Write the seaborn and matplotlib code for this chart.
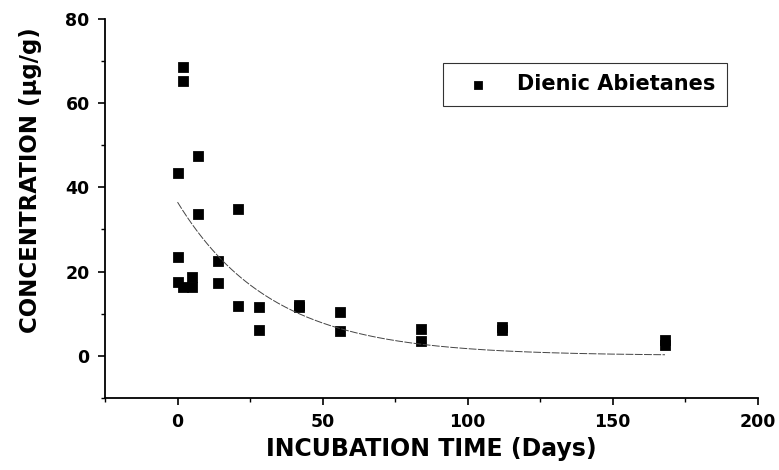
import numpy as np
import pandas as pd
import matplotlib
matplotlib.use("Agg")
import matplotlib.pyplot as plt
import seaborn as sns
from matplotlib.ticker import MultipleLocator

# Dados
days = [0, 0, 0, 2, 2, 2, 5, 5, 7, 7, 14, 14, 21, 21, 28, 28,
        42, 42, 56, 56, 84, 84, 112, 112, 168, 168]
conc = [43.5, 23.5, 17.5, 68.7, 65.4, 16.4, 18.7, 16.4, 47.5, 33.7,
        22.5, 17.2, 34.9, 11.7, 11.6, 6.2, 12.0, 11.5, 10.3, 5.9,
        6.4, 3.4, 6.8, 6.0, 3.6, 2.6]

# Ajuste exponencial (decaimento de primeira ordem)
fit_c0 = 36.5
fit_k = 0.031

df = pd.DataFrame({"Days": days, "Conc": conc})
t_fit = np.linspace(0, 168, 200)
df_fit = pd.DataFrame({"Days": t_fit, "Conc": fit_c0 * np.exp(-fit_k * t_fit)})

sns.set_style("ticks")
plt.rcParams["font.family"] = ["DejaVu Sans"]
plt.rcParams["text.color"] = "black"
plt.rcParams["axes.labelcolor"] = "black"
plt.rcParams["xtick.color"] = "black"
plt.rcParams["ytick.color"] = "black"

fig = plt.figure(figsize=(7.79, 4.70), dpi=100)
ax = fig.add_axes([0.1348, 0.154, 0.838, 0.805])

sns.lineplot(data=df_fit, x="Days", y="Conc", ax=ax, color="#444444",
             linewidth=0.7, linestyle=(0, (8, 1.5)))
sns.scatterplot(data=df, x="Days", y="Conc", ax=ax, marker="s", s=50,
                color="black", edgecolor="black", label="Dienic Abietanes")

ax.set_xlim(-25, 200)
ax.set_ylim(-10, 80)
ax.xaxis.set_major_locator(MultipleLocator(50))
ax.xaxis.set_minor_locator(MultipleLocator(25))
ax.yaxis.set_major_locator(MultipleLocator(20))
ax.yaxis.set_minor_locator(MultipleLocator(10))
ax.tick_params(which="major", length=5, width=1.2, direction="out",
               labelsize=12.5, pad=6)
ax.tick_params(which="minor", length=3, width=1.0, direction="out")
for lab in ax.get_xticklabels() + ax.get_yticklabels():
    lab.set_fontweight("bold")

for side in ["top", "right"]:
    ax.spines[side].set_visible(False)
for side in ["left", "bottom"]:
    ax.spines[side].set_linewidth(1.3)
    ax.spines[side].set_color("black")

ax.set_xlabel("INCUBATION TIME (Days)", fontsize=17, fontweight="bold")
ax.set_ylabel("CONCENTRATION (µg/g)", fontsize=16.5, fontweight="bold")
ax.xaxis.set_label_coords(0.5, -0.105)
ax.yaxis.set_label_coords(-0.097, 0.575)

leg = ax.legend(loc="upper right", bbox_to_anchor=(0.968, 0.913), frameon=True,
                fancybox=False, edgecolor="black", fontsize=15,
                handlelength=2.3, handletextpad=0.7, borderpad=0.55,
                markerscale=0.75)
leg.get_frame().set_linewidth(0.8)
for t in leg.get_texts():
    t.set_fontweight("bold")

fig.savefig("out.png", dpi=100)
